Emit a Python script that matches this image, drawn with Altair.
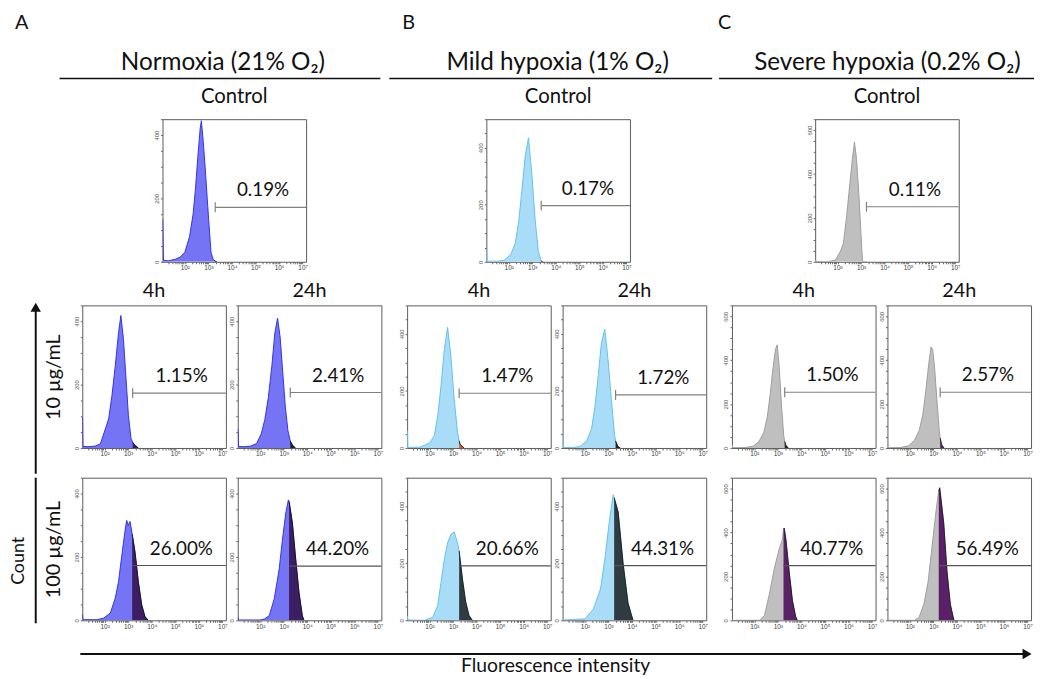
import altair as alt
import numpy as np
import pandas as pd

FONT = "Lato"
XMIN, XMAX = 1.05, 7.15

# ---------------- data (log10 fluorescence, cell count) ----------------
a_ctrl_x = [1.06, 1.09, 1.3, 1.6, 1.8, 2.0, 2.2, 2.35, 2.45, 2.55, 2.65, 2.7, 2.78, 2.87, 2.95, 3.01, 3.11, 3.2, 3.29, 3.35]
a_ctrl_y = [135, 5, 3, 8, 15, 30, 80, 150, 230, 330, 420, 445, 380, 290, 200, 134, 30, 8, 2, 0]
a_10_4h_x = [1.06, 1.08, 1.3, 1.6, 1.82, 2.03, 2.17, 2.31, 2.45, 2.59, 2.69, 2.8, 2.91, 3.01, 3.12, 3.19, 3.29, 3.43]
a_10_4h_y = [97, 5, 4, 6, 13, 60, 92, 165, 259, 364, 418, 343, 217, 102, 30, 18, 8, 0]
a_10_24h_x = [1.06, 1.08, 1.3, 1.6, 1.85, 2.05, 2.2, 2.35, 2.5, 2.62, 2.74, 2.85, 2.96, 3.07, 3.18, 3.28, 3.38, 3.5]
a_10_24h_y = [60, 5, 4, 6, 14, 45, 90, 160, 260, 360, 410, 350, 240, 130, 55, 22, 8, 0]
a_100_4h_x = [1.06, 1.08, 1.68, 1.96, 2.24, 2.45, 2.59, 2.73, 2.82, 2.9, 2.94, 3.0, 3.08, 3.17, 3.29, 3.43, 3.57, 3.71, 3.85]
a_100_4h_y = [19, 2, 2, 7, 23, 70, 122, 205, 257, 300, 315, 300, 312, 272, 215, 122, 50, 12, 0]
a_100_24h_x = [1.06, 1.08, 2.0, 2.18, 2.39, 2.6, 2.81, 2.95, 3.09, 3.2, 3.23, 3.37, 3.51, 3.65, 3.79, 3.86]
a_100_24h_y = [8, 1, 1, 4, 15, 68, 162, 256, 339, 380, 375, 307, 193, 88, 15, 0]

b_ctrl_x = [1.06, 1.08, 1.5, 1.8, 2.08, 2.28, 2.43, 2.56, 2.7, 2.84, 2.98, 3.12, 3.26, 3.38, 3.45]
b_ctrl_y = [40, 2, 2, 5, 25, 65, 145, 250, 370, 435, 310, 150, 35, 3, 0]
b_10_4h_x = [1.06, 1.08, 1.6, 2.0, 2.21, 2.35, 2.49, 2.63, 2.77, 2.91, 3.05, 3.19, 3.26, 3.3, 3.47]
b_10_4h_y = [61, 2, 3, 17, 44, 113, 217, 345, 423, 322, 171, 55, 25, 13, 0]
b_10_24h_x = [1.06, 1.08, 1.5, 1.79, 2.08, 2.28, 2.43, 2.56, 2.7, 2.84, 2.98, 3.12, 3.26, 3.3, 3.4, 3.5]
b_10_24h_y = [50, 2, 2, 5, 26, 67, 148, 252, 368, 417, 310, 171, 44, 25, 5, 0]
b_100_4h_x = [1.06, 1.08, 1.79, 2.14, 2.35, 2.49, 2.63, 2.77, 2.91, 3.05, 3.19, 3.26, 3.4, 3.54, 3.68, 3.82]
b_100_4h_y = [15, 1, 0, 11, 52, 133, 214, 272, 301, 310, 272, 243, 145, 64, 17, 0]
b_100_24h_x = [1.06, 1.08, 2.0, 2.36, 2.66, 2.87, 3.04, 3.2, 3.24, 3.41, 3.62, 3.83, 4.04]
b_100_24h_y = [10, 1, 5, 40, 110, 230, 350, 440, 430, 380, 200, 60, 0]

c_ctrl_x = [1.06, 1.08, 1.55, 1.9, 2.11, 2.25, 2.39, 2.53, 2.63, 2.72, 2.81, 2.91, 3.0, 3.06, 3.1, 3.23]
c_ctrl_y = [10, 1, 0, 7, 45, 83, 211, 362, 467, 546, 467, 301, 120, 7, 0, 0]
c_10_4h_x = [1.06, 1.08, 1.6, 1.95, 2.2, 2.4, 2.55, 2.68, 2.8, 2.9, 2.97, 3.05, 3.15, 3.25, 3.29, 3.35, 3.45]
c_10_4h_y = [15, 1, 2, 8, 30, 70, 140, 250, 370, 450, 470, 380, 200, 55, 30, 10, 0]
c_10_24h_x = [1.06, 1.08, 1.6, 1.95, 2.2, 2.4, 2.55, 2.68, 2.8, 2.9, 2.97, 3.05, 3.15, 3.25, 3.29, 3.35, 3.45]
c_10_24h_y = [10, 1, 2, 10, 35, 80, 150, 260, 380, 460, 450, 370, 220, 80, 45, 15, 0]
c_100_4h_x = [1.06, 1.08, 2.22, 2.43, 2.64, 2.85, 3.06, 3.2, 3.24, 3.27, 3.34, 3.48, 3.62, 3.76, 3.83]
c_100_4h_y = [5, 0, 0, 22, 119, 237, 326, 370, 415, 420, 370, 222, 89, 15, 0]
c_100_24h_x = [1.06, 1.08, 2.2, 2.39, 2.6, 2.78, 2.95, 3.12, 3.23, 3.27, 3.44, 3.58, 3.72, 3.86, 3.9]
c_100_24h_y = [5, 0, 0, 13, 74, 178, 341, 504, 590, 604, 444, 222, 74, 5, 0]

hist_x = [a_ctrl_x, a_10_4h_x, a_10_24h_x, a_100_4h_x, a_100_24h_x,
          b_ctrl_x, b_10_4h_x, b_10_24h_x, b_100_4h_x, b_100_24h_x,
          c_ctrl_x, c_10_4h_x, c_10_24h_x, c_100_4h_x, c_100_24h_x]
hist_y = [a_ctrl_y, a_10_4h_y, a_10_24h_y, a_100_4h_y, a_100_24h_y,
          b_ctrl_y, b_10_4h_y, b_10_24h_y, b_100_4h_y, b_100_24h_y,
          c_ctrl_y, c_10_4h_y, c_10_24h_y, c_100_4h_y, c_100_24h_y]

gate_x = [3.29, 3.19, 3.28, 3.17, 3.23,
          3.38, 3.26, 3.30, 3.26, 3.24,
          3.23, 3.29, 3.29, 3.24, 3.23]
gate_y = [172, 173, 175, 173, 171,
          197, 192, 186, 191, 192,
          251, 254, 254, 249, 249]
percent = ["0.19%", "1.15%", "2.41%", "26.00%", "44.20%",
           "0.17%", "1.47%", "1.72%", "20.66%", "44.31%",
           "0.11%", "1.50%", "2.57%", "40.77%", "56.49%"]

conditions = ["Normoxia (21% O\u2082)", "Mild hypoxia (1% O\u2082)", "Severe hypoxia (0.2% O\u2082)"]
letters = ["A", "B", "C"]
times = ["4h", "24h"]
doses = ["10 \u00b5g/mL", "100 \u00b5g/mL"]
y_max = [450, 500, 650]

# ---------------- styles ----------------
fill_light = ["#7474f4", "#a9dcf7", "#bfbfbf"]
edge_light = ["#3434e6", "#62c0f1", "#9d9d9d"]
fill_dark = ["#3d1e63", "#2f3b41", "#5a2168"]
tail_dark = ["#3d1e63", "#232323", "#e2561f", "#232323", "#232323", "#5a2168"]

PW, PH = 145, 144
TOTAL_W = 1032

x_ticks = [n + np.log10(k) for n in range(1, 8) for k in range(1, 10)]
x_ticks = [float(round(v, 4)) for v in x_ticks if XMIN <= v <= XMAX]
sup = "['\u2070','\u00b9','\u00b2','\u00b3','\u2074','\u2075','\u2076','\u2077']"
x_label_expr = ("abs(datum.value - round(datum.value)) < 0.001 && datum.value >= 2 ? '10' + "
                + sup + "[round(datum.value)] : ''")

one = pd.DataFrame({"k": [0]})


def spacer(w, h):
    return alt.Chart(one).mark_rule(strokeOpacity=0).encode(
        x=alt.value(0), y=alt.value(0), y2=alt.value(h)).properties(width=w, height=h)


def panel(i, cond, kind, tail_idx=None, title=None, ytitle=None):
    df = pd.DataFrame({"x": hist_x[i], "y": hist_y[i]})
    g, gy = gate_x[i], gate_y[i]
    xa = alt.Axis(values=x_ticks, labelExpr=x_label_expr, labelFontSize=6.5, labelColor="#444",
                  labelFont="Liberation Sans", tickSize=2, tickColor="#666", domain=False,
                  labelPadding=1, labelOverlap=False, labelFlush=False, grid=False, title=None)
    yargs = dict(values=list(range(0, y_max[cond] + 1, 50)),
                 labelExpr="datum.value % 200 == 0 ? datum.label : ''",
                 labelAngle=270, labelFontSize=6, labelColor="#555", labelFont="Liberation Sans",
                 tickSize=2, tickColor="#666", domain=False, labelPadding=1,
                 labelOverlap=False, grid=False)
    if ytitle is not None:
        yargs.update(title=ytitle, titleFont=FONT, titleFontSize=20, titleFontWeight="normal",
                     titleColor="#111", titlePadding=10)
    else:
        yargs.update(title=None)
    ya = alt.Axis(**yargs)
    xs = alt.Scale(domain=[XMIN, XMAX], nice=False, zero=False)
    ys = alt.Scale(domain=[0, y_max[cond]], nice=False)
    X = alt.X("x:Q", scale=xs, axis=xa)
    Y = alt.Y("y:Q", scale=ys, axis=ya)

    dark_col = fill_dark[cond] if tail_idx is None else tail_dark[tail_idx]
    base = alt.Chart(df)
    light = base.mark_area(color=fill_light[cond], opacity=1, clip=True).encode(X, Y)
    outline = base.mark_line(color=edge_light[cond], strokeWidth=1, clip=True).encode(X, Y)
    dark = base.transform_filter(alt.datum.x >= g - 1e-9).mark_area(
        color=dark_col, opacity=1, clip=True).encode(X, Y)
    dark_edge = base.transform_filter(alt.datum.x >= g - 1e-9).mark_line(
        color="#111", strokeWidth=0.8, clip=True).encode(X, Y)

    gdf = pd.DataFrame({"x": [g], "x2": [XMAX], "y": [gy], "tx": [(g + XMAX) / 2 + 0.1],
                        "label": [percent[i]]})
    gcol = "#555" if kind == 2 else "#808080"
    hline = alt.Chart(gdf).mark_rule(color=gcol, strokeWidth=1.2).encode(
        x=alt.X("x:Q", scale=xs, axis=xa), x2="x2:Q", y=alt.Y("y:Q", scale=ys, axis=ya))
    layers = [light, outline, dark, dark_edge, hline]
    if kind != 2:
        vt = alt.Chart(gdf).mark_rule(color=gcol, strokeWidth=1.2, yOffset=-5, y2Offset=5).encode(
            x=alt.X("x:Q", scale=xs, axis=xa), y=alt.Y("y:Q", scale=ys, axis=ya), y2="y:Q")
        layers.append(vt)
    txt = alt.Chart(gdf).mark_text(font=FONT, fontSize=19, color="#111", dy=-17,
                                   baseline="middle", align="center").encode(
        x=alt.X("tx:Q", scale=xs, axis=xa), y=alt.Y("y:Q", scale=ys, axis=ya), text="label:N")
    layers.append(txt)
    props = dict(width=PW, height=PH, view=alt.ViewBackground(stroke="#5a5a5a", strokeWidth=1))
    if title is not None:
        props["title"] = title
    return alt.layer(*layers).properties(**props)


def title_params(t, offset, size=20):
    return alt.TitleParams(t, font=FONT, fontSize=size, fontWeight="normal", color="#111",
                           offset=offset, anchor="middle")


# ---------------- header row ----------------
letter_x = [6, 397, 716]
head_x = [216, 554, 887]
under_x = [(51, 375), (384, 710), (717, 1035)]
hdr_layers = []
for ci in range(3):
    hdr_layers.append(alt.Chart(one).mark_text(text=letters[ci], font=FONT, fontSize=20,
                                               align="left", baseline="middle", color="#111")
                      .encode(x=alt.value(letter_x[ci]), y=alt.value(11)))
    hdr_layers.append(alt.Chart(one).mark_text(text=conditions[ci], font=FONT, fontSize=24.5,
                                               align="center", baseline="alphabetic", color="#111")
                      .encode(x=alt.value(head_x[ci]), y=alt.value(58)))
    hdr_layers.append(alt.Chart(one).mark_rule(color="#111", strokeWidth=1.5).encode(
        x=alt.value(under_x[ci][0]), x2=alt.value(under_x[ci][1]), y=alt.value(67)))
header_row = alt.layer(*hdr_layers).properties(width=TOTAL_W, height=74)

# ---------------- control row ----------------
ctrl_row = alt.hconcat(
    spacer(155, PH),
    panel(0, 0, 0, title=title_params("Control", 11, 20.5)),
    spacer(182, PH),
    panel(5, 1, 0, title=title_params("Control", 11, 20.5)),
    spacer(187, PH),
    panel(10, 2, 0, title=title_params("Control", 11, 20.5)),
    spacing=0, bounds="flush")

# ---------------- treatment rows ----------------
left2 = alt.layer(
    alt.Chart(one).mark_rule(strokeWidth=2, color="#111").encode(
        x=alt.value(27), y=alt.value(2), y2=alt.value(170)),
    alt.Chart(one).mark_point(shape="triangle-up", filled=True, size=110, color="#111",
                              opacity=1).encode(x=alt.value(27), y=alt.value(2)),
).properties(width=62, height=170)

left3 = alt.layer(
    alt.Chart(one).mark_rule(strokeWidth=2, color="#111").encode(
        x=alt.value(27), y=alt.value(0), y2=alt.value(147)),
    alt.Chart(one).mark_text(text="Count", angle=270, font=FONT, fontSize=18, baseline="middle",
                             align="center", color="#111").encode(x=alt.value(10), y=alt.value(84)),
).properties(width=62, height=PH)

row2_items = [left2]
row3_items = [left3]
for ci in range(3):
    b = ci * 5
    if ci > 0:
        row2_items.append(spacer(2, PH))
        row3_items.append(spacer(2, PH))
    row2_items.append(panel(b + 1, ci, 1, tail_idx=2 * ci, title=title_params(times[0], 4),
                            ytitle=doses[0] if ci == 0 else None))
    row2_items.append(panel(b + 2, ci, 1, tail_idx=2 * ci + 1, title=title_params(times[1], 4)))
    row3_items.append(panel(b + 3, ci, 2, ytitle=doses[1] if ci == 0 else None))
    row3_items.append(panel(b + 4, ci, 2))

row2 = alt.hconcat(*row2_items, spacing=12, bounds="flush")
row3 = alt.hconcat(*row3_items, spacing=12, bounds="flush")

# ---------------- bottom row ----------------
bottom_row = alt.layer(
    alt.Chart(one).mark_rule(strokeWidth=2, color="#111").encode(
        x=alt.value(72), x2=alt.value(1028), y=alt.value(23)),
    alt.Chart(one).mark_point(shape="triangle-right", filled=True, size=110, color="#111",
                              opacity=1).encode(x=alt.value(1028), y=alt.value(23)),
    alt.Chart(one).mark_text(text="Fluorescence intensity", font=FONT, fontSize=19.5,
                             baseline="middle", align="center", color="#111").encode(
        x=alt.value(552), y=alt.value(35)),
).properties(width=TOTAL_W, height=45)

chart = alt.vconcat(header_row, ctrl_row, spacer(1, 7), row2, row3, bottom_row,
                    spacing=0).properties(
    padding={"left": 0, "top": 0, "right": 0, "bottom": 0}, background="white"
).configure_view(stroke="transparent")

chart.save("out.html", embed_options={"renderer": "svg", "actions": False})
